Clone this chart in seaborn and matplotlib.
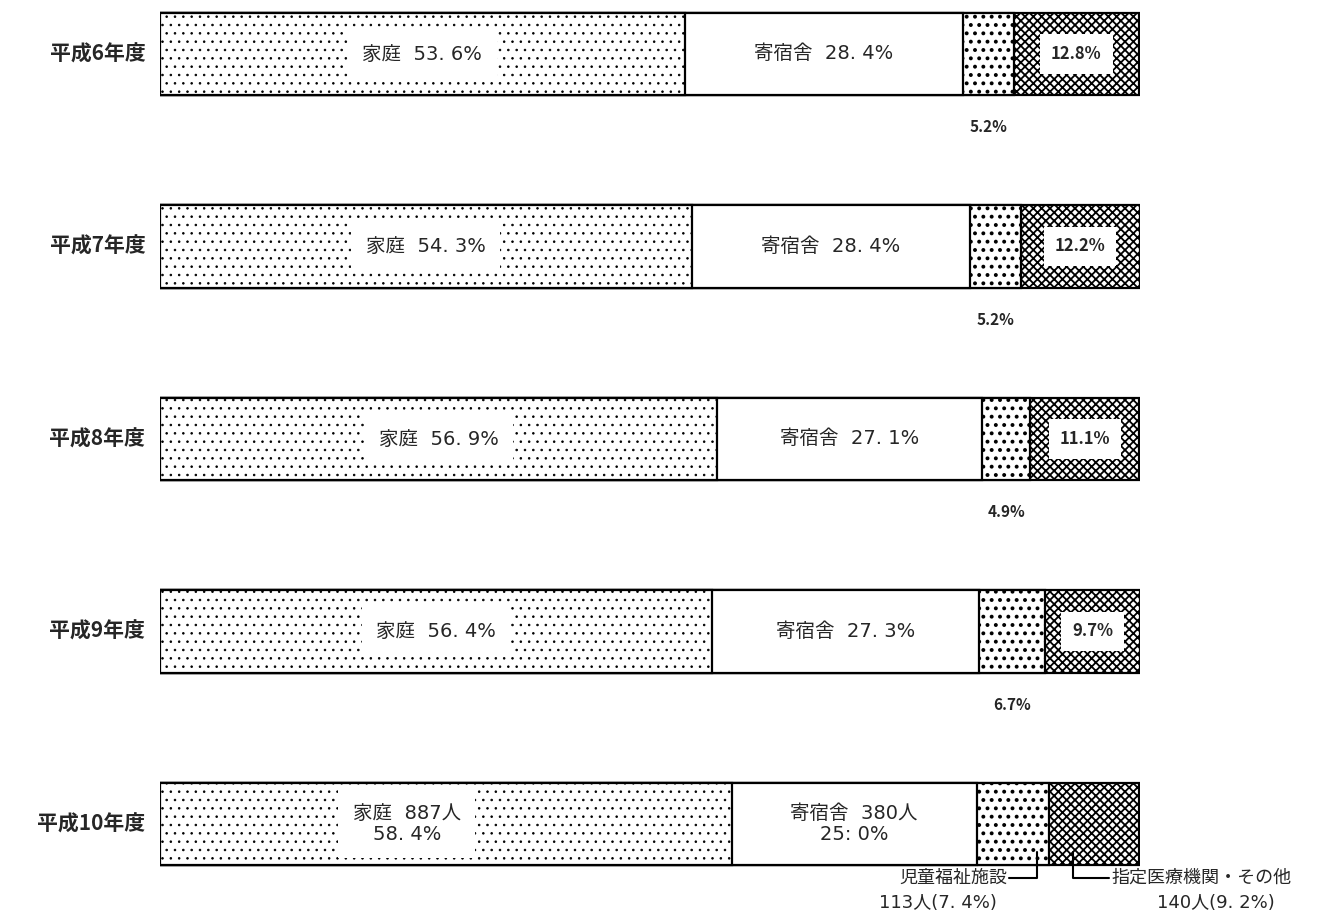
import numpy as np
import pandas as pd
import matplotlib
matplotlib.use('Agg')
import matplotlib.pyplot as plt
import seaborn as sns

# Data
years = ['平成6年度', '平成7年度', '平成8年度', '平成9年度', '平成10年度']
katei = [53.6, 54.3, 56.9, 56.4, 58.4]        # 家庭
kishukusha = [28.4, 28.4, 27.1, 27.3, 25.0]   # 寄宿舎
jido = [5.2, 5.2, 4.9, 6.7, 7.4]              # 児童福祉施設
iryo = [12.8, 12.2, 11.1, 9.7, 9.2]           # 指定医療機関・その他
persons_h10 = [887, 380, 113, 140]

sns.set_style('white')
plt.rcParams['font.family'] = ['Noto Sans CJK JP', 'DejaVu Sans']
plt.rcParams['hatch.color'] = 'black'
label_font = ['DejaVu Sans', 'Noto Sans CJK JP']

df = pd.DataFrame({'year': years, 'katei': katei, 'kishukusha': kishukusha,
                   'jido': jido, 'iryo': iryo})
df['c1'] = df['katei']
df['c2'] = df['c1'] + df['kishukusha']
df['c3'] = df['c2'] + df['jido']
df['c4'] = df['c3'] + df['iryo']

fig = plt.figure(figsize=(13.27, 9.15), dpi=100)
ax = fig.add_axes([160 / 1327, 0, 980 / 1327, 1])

step = 192.5  # pixels between bar rows
bw = 0.43
# draw cumulative layers from the outermost inwards
layers = [('c4', 'xxxx', 1.3), ('c3', '..', 1.6), ('c2', None, 1.0), ('c1', '..', 0.6)]
for col, hatch, hlw in layers:
    with plt.rc_context({'hatch.linewidth': hlw}):
        sns.barplot(data=df, x=col, y='year', order=years, orient='h', ax=ax,
                    color='white', edgecolor='black', linewidth=1.6,
                    width=bw, hatch=hatch, saturation=1)

ax.set_xlim(0, 100.1)
ax.set_ylim(4 + 91 / step, -54 / step)
ax.axis('off')

white_box = dict(facecolor='white', edgecolor='none', boxstyle='square,pad=0.75')

for i in range(len(years)):
    # year label
    ax.text(-1.5, i, years[i], ha='right', va='center', fontsize=15,
            fontweight='bold')
    if i < 4:
        ax.text(katei[i] / 2, i, f'家庭  {katei[i]:.1f}%'.replace('.', '. '),
                ha='center', va='center', fontsize=14, family=label_font,
                bbox=white_box)
        ax.text(df['c1'][i] + kishukusha[i] / 2, i,
                f'寄宿舎  {kishukusha[i]:.1f}%'.replace('.', '. '),
                ha='center', va='center', fontsize=14, family=label_font)
        ax.text(df['c3'][i] + iryo[i] / 2, i, f'{iryo[i]:.1f}%',
                ha='center', va='center', fontsize=12, fontweight='bold',
                bbox=dict(facecolor='white', edgecolor='none',
                          boxstyle='square,pad=0.65'))
        ax.text(df['c2'][i] + jido[i] / 2, i + 0.38, f'{jido[i]:.1f}%',
                ha='center', va='center', fontsize=11, fontweight='bold')
    else:
        ax.text(katei[i] / 2 - 4, i,
                f'家庭  {persons_h10[0]}人\n{katei[i]:.1f}%'.replace('.', '. '),
                ha='center', va='center', fontsize=14, linespacing=1.1,
                family=label_font, bbox=white_box)
        ax.text(df['c1'][i] + kishukusha[i] / 2, i,
                f'寄宿舎  {persons_h10[1]}人\n{kishukusha[i]:.1f}%'.replace('.', ': '),
                ha='center', va='center', fontsize=14, linespacing=1.1,
                family=label_font)

# callouts for the last row
i = 4
y_in = i + 28 / step
y_line = i + 54 / step
y_txt2 = i + 79 / step
x_j = df['c2'][i] + jido[i] * 0.83
ax.plot([x_j, x_j, x_j - 2.8], [y_in, y_line, y_line], color='black', lw=1.5)
ax.text(x_j - 3.0, y_line, '児童福祉施設', ha='right', va='center',
        fontsize=13)
ax.text(df['c2'][i] - 3.9, y_txt2,
        f'{persons_h10[2]}人({jido[i]:.1f}%)'.replace('.', '. '),
        ha='center', va='center', fontsize=13, family=label_font)

x_m = df['c3'][i] + iryo[i] * 0.27
ax.plot([x_m, x_m, x_m + 3.7], [y_in, y_line, y_line], color='black', lw=1.5)
ax.text(x_m + 3.9, y_line, '指定医療機関・その他', ha='left', va='center',
        fontsize=13)
ax.text(df['c4'][i] + 7.8, y_txt2,
        f'{persons_h10[3]}人({iryo[i]:.1f}%)'.replace('.', '. '),
        ha='center', va='center', fontsize=13, family=label_font)

plt.savefig('out.png', dpi=100)
